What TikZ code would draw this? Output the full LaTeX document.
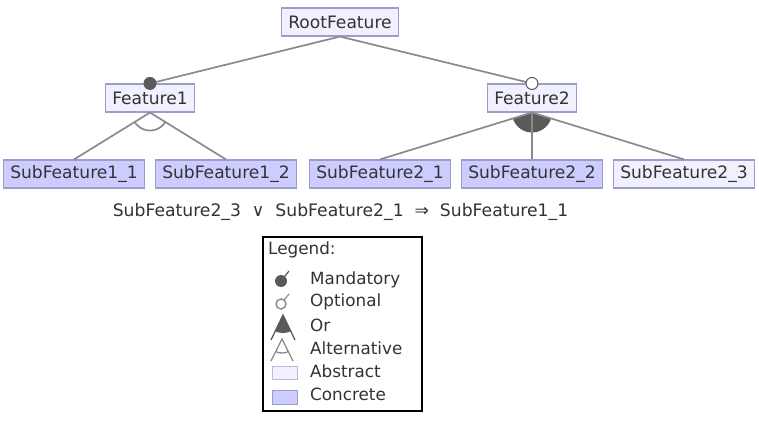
\documentclass[tikz,border=0pt]{standalone}
\usepackage{fontspec}
\setmainfont{DejaVu Sans}
\begin{document}
\begin{tikzpicture}[x=1pt,y=-1pt,
  feat/.style={draw=featborder, line width=1.1pt, inner xsep=6.5pt, inner ysep=0pt, minimum height=28pt, font=\fontsize{17.1}{19}\selectfont, text=black!80},
  abstractf/.style={feat, fill=absfill},
  concretef/.style={feat, fill=confill},
  conn/.style={draw=linegray, line width=1.7pt},
  lgtext/.style={anchor=west, inner sep=0pt, font=\fontsize{16.8}{19}\selectfont, text=black!80}]
\definecolor{absfill}{HTML}{F0F0FF}
\definecolor{confill}{HTML}{CCCCFF}
\definecolor{featborder}{HTML}{9C9CCC}
\definecolor{linegray}{HTML}{8A8A8A}
\definecolor{darkfill}{HTML}{5A5A5A}
\useasboundingbox (0,0) rectangle (759,441);
\fill[white] (0,0) rectangle (759,441);

\node[abstractf] (root) at (340,22) {RootFeature};
\node[abstractf] (f1) at (150,98) {Feature1};
\node[abstractf] (f2) at (532,98) {Feature2};
\node[concretef] (s11) at (74,174) {SubFeature1\_1};
\node[concretef] (s12) at (226,174) {SubFeature1\_2};
\node[concretef] (s21) at (380,174) {SubFeature2\_1};
\node[concretef] (s22) at (532,174) {SubFeature2\_2};
\node[abstractf] (s23) at (684,174) {SubFeature2\_3};

% root connections
\draw[conn] (root.south) -- (f1.north);
\draw[conn] (root.south) -- (f2.north);
\fill[darkfill] (f1.north) circle[radius=6.5pt];
\draw[darkfill, line width=1pt, fill=white] (f2.north) circle[radius=6pt];

% alternative group
\draw[conn] (f1.south) -- (s11.north);
\draw[conn] (f1.south) -- (s12.north);
\begin{scope}
  \clip (f1.south) -- (s11.north) -- (s12.north) -- cycle;
  \draw[conn] (f1.south) circle[radius=18pt];
\end{scope}

% or group
\begin{scope}
  \clip (f2.south) -- (s21.north) -- (s23.north) -- cycle;
  \fill[darkfill] (f2.south) circle[radius=20pt];
\end{scope}
\draw[conn] (f2.south) -- (s21.north);
\draw[conn] (f2.south) -- (s22.north);
\draw[conn] (f2.south) -- (s23.north);

% constraint
\node[inner sep=0pt, font=\fontsize{17.2}{19}\selectfont, text=black!80] (cons) at (340.5,212)
  {SubFeature2\_3 \ ∨ \ SubFeature2\_1 \ ⇒ \ SubFeature1\_1};

% legend
\node[draw=black, line width=1.3pt, minimum width=159pt, minimum height=174pt, inner sep=0pt] (legend) at (342.5,324) {};
\node[lgtext] (lgtitle) at (268,250) {Legend:};
\node[lgtext] (lm) at (310,280) {Mandatory};
\node[lgtext] (lo) at (310,302) {Optional};
\node[lgtext] (lor) at (310,325) {Or};
\node[lgtext] (la) at (310,348) {Alternative};
\node[lgtext] (lab) at (310,371) {Abstract};
\node[lgtext] (lc) at (310,394) {Concrete};

% legend symbols
\coordinate (mc) at (281,281);
\draw[darkfill, line width=1.2pt] (mc) -- (289,271);
\fill[darkfill] (mc) circle[radius=6pt];
\coordinate (oc) at (281,304);
\draw[linegray, line width=1.2pt] (284,300) -- (289,294);
\draw[linegray, line width=1.4pt] (oc) circle[radius=5pt];

\coordinate (orapex) at (283,315);
\begin{scope}
  \clip (orapex) -- (271,340) -- (295,340) -- cycle;
  \fill[darkfill] (orapex) circle[radius=18pt];
\end{scope}
\draw[darkfill, line width=1.3pt] (271,340) -- (orapex) -- (295,340);

\coordinate (altapex) at (282,339);
\draw[linegray, line width=1.3pt] (271,361) -- (altapex) -- (293,361);
\begin{scope}
  \clip (altapex) -- (271,361) -- (293,361) -- cycle;
  \draw[linegray, line width=1.3pt] (altapex) circle[radius=14pt];
\end{scope}

\draw[draw=featborder!70, fill=absfill, line width=1pt] (272,366) rectangle (297,379);
\draw[draw=featborder, fill=confill, line width=1pt] (272,390) rectangle (297,404);
\end{tikzpicture}
\end{document}
